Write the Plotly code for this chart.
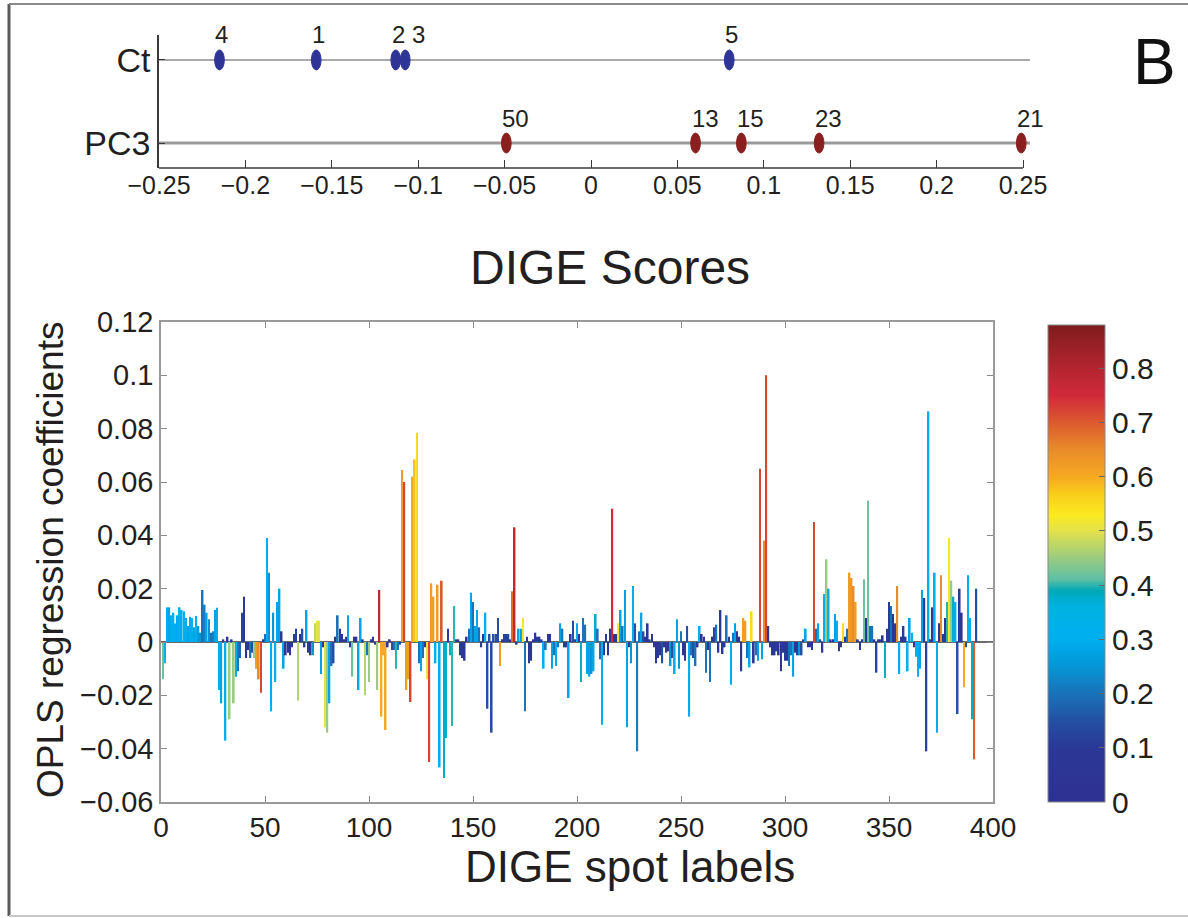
import plotly.graph_objects as go

# ---------------- data ----------------
ct_scores = [-0.159, -0.113, -0.1075, -0.215, 0.080]
ct_labels = ["1", "2", "3", "4", "5"]
pc3_scores = [0.0605, 0.249, 0.132, 0.087, -0.049]
pc3_labels = ["13", "21", "23", "15", "50"]
score_groups = ["PC3", "Ct"]

coef = [
    -0.014, -0.008, 0.013, 0.013, 0.010, 0.011, 0.007, 0.010, 0.013, 0.012,
    0.0115, 0.009, 0.006, 0.0095, 0.009, 0.0055, 0.0098, 0.006, 0.0035, 0.0195,
    0.014, 0.011, 0.0085, 0.0035, 0.004, 0.012, 0.0128, -0.018, -0.023, 0.001,
    -0.037, 0.002, -0.029, 0.001, -0.023, -0.013, -0.011, -0.006, 0.011, 0.017,
    -0.006, -0.003, -0.006, -0.004, -0.006, -0.010, -0.014, -0.019, 0.001, 0.003,
    0.039, 0.026, -0.026, 0.011, -0.015, 0.015, 0.020, 0.004, -0.010, -0.005,
    -0.004, -0.005, -0.002, 0.003, 0.005, -0.022, 0.003, 0.005, -0.002, 0.012,
    -0.004, -0.005, -0.005, 0.007, 0.008, 0.008, -0.012, -0.002, -0.032, -0.034,
    -0.023, -0.009, -0.008, 0.002, 0.010, 0.005, 0.003, 0.001, 0.002, 0.010,
    -0.002, -0.013, 0.002, 0.002, -0.018, 0.009, 0.001, -0.020, -0.005, -0.015,
    0.001, 0.002, -0.001, -0.018, 0.0195, -0.028, -0.005, -0.033, -0.002, 0.001,
    -0.003, -0.003, -0.010, -0.003, -0.001, 0.0645, 0.060, -0.018, -0.014, -0.0225,
    0.062, 0.0685, 0.0785, -0.008, -0.011, -0.006, -0.002, -0.014, -0.045, 0.022,
    0.017, -0.008, 0.0215, -0.047, 0.023, -0.051, -0.036, 0.005, -0.005, -0.0315,
    0.0135, 0.001, 0.001, -0.005, -0.006, -0.007, 0.002, 0.005, 0.0185, 0.015,
    0.006, 0.012, 0.0055, -0.002, 0.003, 0.011, -0.025, 0.003, -0.034, 0.003,
    0.003, 0.009, -0.009, 0.001, 0.003, 0.003, 0.003, 0.001, 0.019, 0.043,
    -0.001, 0.005, 0.005, 0.009, -0.026, 0.002, -0.008, -0.007, 0.001, 0.0035,
    0.002, 0.002, 0.001, -0.010, -0.003, 0.003, 0.003, -0.010, -0.005, -0.009,
    -0.002, 0.007, 0.005, -0.002, -0.002, -0.021, 0.003, 0.008, 0.001, 0.007,
    0.003, -0.015, 0.009, 0.0065, -0.012, -0.013, -0.012, -0.011, 0.0105, 0.005,
    -0.0065, -0.031, -0.005, 0.003, -0.005, 0.005, 0.050, 0.003, 0.003, 0.007,
    0.012, 0.006, 0.0195, -0.032, -0.002, -0.008, 0.021, 0.007, -0.041, 0.004,
    0.011, 0.004, 0.002, 0.007, 0.001, 0.003, -0.002, -0.008, -0.006, -0.005,
    -0.008, -0.002, -0.004, -0.0035, -0.009, -0.006, -0.012, 0.0085, -0.010, 0.004,
    -0.005, -0.007, 0.006, -0.028, -0.005, -0.006, -0.009, -0.002, 0.006, 0.003,
    0.002, -0.0115, -0.003, -0.015, 0.002, 0.0055, 0.0065, -0.004, 0.012, -0.0045,
    -0.002, 0.010, 0.002, -0.016, 0.0035, 0.007, 0.004, 0.002, -0.011, 0.009,
    0.008, -0.006, -0.0095, 0.0115, -0.008, -0.005, -0.007, 0.065, -0.0065, 0.038,
    0.100, 0.006, -0.002, -0.005, -0.005, -0.0035, -0.005, -0.011, -0.004, -0.007,
    -0.007, -0.009, -0.005, -0.013, -0.004, -0.005, -0.005, -0.005, 0.001, 0.005,
    -0.002, -0.002, -0.003, 0.045, 0.005, 0.007, 0.001, -0.004, 0.018, 0.031,
    0.020, 0.001, 0.001, 0.0105, 0.008, -0.0035, -0.002, 0.007, 0.002, 0.005,
    0.026, 0.024, 0.021, 0.015, 0.001, -0.003, 0.001, 0.0235, 0.009, 0.053,
    0.006, 0.006, 0.001, -0.0115, 0.001, 0.001, 0.0025, -0.0135, 0.005, 0.015,
    0.0135, 0.0105, 0.007, 0.021, -0.012, 0.002, 0.006, 0.002, -0.011, 0.009,
    0.0035, -0.002, -0.0055, -0.013, -0.010, 0.0195, 0.0165, -0.041, 0.0865, 0.001,
    0.013, 0.026, -0.034, 0.007, 0.025, 0.003, 0.009, 0.015, 0.039, 0.023,
    0.017, 0.015, -0.027, 0.020, 0.011, -0.017, -0.002, 0.025, 0.009, -0.029,
    -0.044, 0.020,
]

vip = [
    0.42, 0.30, 0.30, 0.28, 0.30, 0.32, 0.30, 0.30, 0.36, 0.30,
    0.32, 0.30, 0.28, 0.30, 0.30, 0.28, 0.30, 0.26, 0.25, 0.20,
    0.22, 0.28, 0.25, 0.20, 0.22, 0.28, 0.30, 0.30, 0.28, 0.08,
    0.30, 0.08, 0.45, 0.10, 0.45, 0.30, 0.20, 0.18, 0.12, 0.10,
    0.08, 0.10, 0.20, 0.15, 0.45, 0.62, 0.65, 0.72, 0.10, 0.20,
    0.30, 0.25, 0.30, 0.25, 0.30, 0.28, 0.28, 0.10, 0.28, 0.10,
    0.08, 0.08, 0.10, 0.10, 0.12, 0.47, 0.10, 0.15, 0.10, 0.28,
    0.10, 0.08, 0.25, 0.48, 0.50, 0.50, 0.28, 0.10, 0.50, 0.45,
    0.28, 0.20, 0.15, 0.10, 0.20, 0.10, 0.08, 0.10, 0.10, 0.28,
    0.10, 0.42, 0.08, 0.10, 0.28, 0.28, 0.10, 0.47, 0.20, 0.45,
    0.10, 0.10, 0.10, 0.45, 0.78, 0.60, 0.60, 0.60, 0.10, 0.10,
    0.15, 0.20, 0.40, 0.20, 0.10, 0.62, 0.72, 0.62, 0.62, 0.72,
    0.60, 0.58, 0.55, 0.20, 0.28, 0.20, 0.10, 0.50, 0.72, 0.62,
    0.62, 0.30, 0.62, 0.30, 0.70, 0.38, 0.38, 0.10, 0.38, 0.40,
    0.40, 0.10, 0.10, 0.10, 0.10, 0.10, 0.10, 0.20, 0.28, 0.20,
    0.28, 0.28, 0.20, 0.10, 0.10, 0.30, 0.15, 0.15, 0.15, 0.15,
    0.15, 0.15, 0.62, 0.10, 0.12, 0.12, 0.12, 0.10, 0.68, 0.78,
    0.10, 0.28, 0.28, 0.52, 0.20, 0.10, 0.08, 0.10, 0.10, 0.10,
    0.10, 0.10, 0.10, 0.30, 0.20, 0.10, 0.10, 0.28, 0.20, 0.30,
    0.20, 0.28, 0.20, 0.10, 0.10, 0.28, 0.10, 0.15, 0.10, 0.30,
    0.10, 0.38, 0.20, 0.20, 0.28, 0.28, 0.25, 0.28, 0.38, 0.20,
    0.20, 0.30, 0.10, 0.10, 0.08, 0.10, 0.75, 0.10, 0.10, 0.52,
    0.28, 0.20, 0.28, 0.28, 0.10, 0.25, 0.30, 0.15, 0.22, 0.20,
    0.28, 0.15, 0.10, 0.08, 0.10, 0.08, 0.08, 0.05, 0.08, 0.10,
    0.15, 0.10, 0.10, 0.10, 0.25, 0.15, 0.30, 0.28, 0.25, 0.20,
    0.08, 0.10, 0.15, 0.30, 0.20, 0.15, 0.20, 0.10, 0.30, 0.10,
    0.08, 0.20, 0.10, 0.20, 0.10, 0.12, 0.20, 0.08, 0.10, 0.10,
    0.10, 0.20, 0.10, 0.30, 0.20, 0.28, 0.08, 0.10, 0.08, 0.62,
    0.62, 0.20, 0.28, 0.55, 0.10, 0.20, 0.28, 0.72, 0.28, 0.65,
    0.72, 0.10, 0.10, 0.08, 0.10, 0.08, 0.10, 0.08, 0.10, 0.10,
    0.08, 0.20, 0.20, 0.28, 0.08, 0.10, 0.25, 0.15, 0.10, 0.28,
    0.08, 0.08, 0.10, 0.72, 0.20, 0.28, 0.10, 0.10, 0.30, 0.45,
    0.32, 0.10, 0.10, 0.28, 0.30, 0.10, 0.10, 0.55, 0.10, 0.20,
    0.62, 0.63, 0.65, 0.62, 0.10, 0.10, 0.10, 0.42, 0.10, 0.42,
    0.20, 0.20, 0.10, 0.12, 0.10, 0.10, 0.10, 0.38, 0.10, 0.10,
    0.20, 0.10, 0.10, 0.65, 0.30, 0.10, 0.10, 0.10, 0.35, 0.28,
    0.30, 0.10, 0.30, 0.30, 0.28, 0.28, 0.10, 0.12, 0.30, 0.10,
    0.10, 0.30, 0.30, 0.10, 0.65, 0.10, 0.10, 0.40, 0.52, 0.45,
    0.38, 0.30, 0.15, 0.10, 0.10, 0.60, 0.15, 0.30, 0.30, 0.38,
    0.70, 0.15,
]
spot_labels = list(range(1, len(coef) + 1))

score_ticks = [-0.25, -0.2, -0.15, -0.1, -0.05, 0, 0.05, 0.1, 0.15, 0.2, 0.25]
score_ticktext = ["\u22120.25", "\u22120.2", "\u22120.15", "\u22120.1", "\u22120.05", "0",
                  "0.05", "0.1", "0.15", "0.2", "0.25"]
coef_ticks = [-0.06, -0.04, -0.02, 0, 0.02, 0.04, 0.06, 0.08, 0.1, 0.12]
coef_ticktext = ["\u22120.06", "\u22120.04", "\u22120.02", "0", "0.02", "0.04", "0.06",
                 "0.08", "0.1", "0.12"]
spot_ticks = [0, 50, 100, 150, 200, 250, 300, 350, 400]
cbar_ticks = [0, 0.1, 0.2, 0.3, 0.4, 0.5, 0.6, 0.7, 0.8]

# ---------------- style ----------------
W, H = 1188, 918
FONT = "Liberation Sans, Arial, Helvetica, sans-serif"
TXT = "#231f20"

def px_x(p):
    return p / W

def px_y(p):
    return 1 - p / H

colorscale = [
    [0.0, "#2e3192"], [0.1136, "#2b3896"], [0.1705, "#2350a2"], [0.2273, "#1a72b8"],
    [0.284, "#0596d6"], [0.341, "#00aeef"], [0.409, "#00b2e2"], [0.443, "#00a9b8"],
    [0.466, "#5cbfa5"], [0.511, "#9acb80"], [0.568, "#e2e24a"], [0.602, "#fbea22"],
    [0.648, "#f9cb1c"], [0.682, "#f5a922"], [0.739, "#e98b2a"], [0.795, "#dc5a2e"],
    [0.852, "#d02a3a"], [0.909, "#b42530"], [1.0, "#7e1c1c"],
]

fig = go.Figure()

# bar chart
fig.add_trace(go.Bar(
    x=spot_labels, y=coef, xaxis="x", yaxis="y",
    marker=dict(
        color=vip, colorscale=colorscale, cmin=0, cmax=0.88, line=dict(width=0),
        colorbar=dict(
            x=px_x(1048), xanchor="left", xpad=0, ypad=0,
            y=px_y(563.5), yanchor="middle",
            len=477, lenmode="pixels", thickness=57, thicknessmode="pixels",
            outlinecolor="#8a8a8a", outlinewidth=1,
            tickvals=cbar_ticks, ticktext=[f"{v:g}" for v in cbar_ticks],
            ticks="inside", ticklen=6, tickcolor="#666",
            tickfont=dict(family=FONT, size=30, color=TXT),
        ),
    ),
    showlegend=False, hoverinfo="x+y",
))

# invisible points to carry the score axes
fig.add_trace(go.Scatter(x=ct_scores + pc3_scores,
                         y=[2] * len(ct_scores) + [1] * len(pc3_scores),
                         xaxis="x2", yaxis="y2", mode="markers",
                         marker=dict(size=1, opacity=0), showlegend=False, hoverinfo="skip"))

shapes = []
annotations = []

# horizontal group lines in the score plot
for gi, lw, col in [(0, 3, "#9a9a9a"), (1, 1.5, "#8c8c8c")]:
    shapes.append(dict(type="line", xref="x2", yref="y2", x0=score_ticks[0], x1=0.254,
                       y0=gi + 1, y1=gi + 1, line=dict(color=col, width=lw), layer="below"))

# ellipse markers
half_w, half_h = 0.0028, 0.12
for vals, gi, col in [(ct_scores, 1, "#2f3596"), (pc3_scores, 0, "#8a1f1f")]:
    for v in vals:
        shapes.append(dict(type="circle", xref="x2", yref="y2",
                           x0=v - half_w, x1=v + half_w, y0=gi + 1 - half_h, y1=gi + 1 + half_h,
                           fillcolor=col, line=dict(color=col, width=1)))

# point labels
label_dx = {"3": 5}
for vals, labs, gi in [(ct_scores, ct_labels, 1), (pc3_scores, pc3_labels, 0)]:
    for v, lab in zip(vals, labs):
        annotations.append(dict(x=v, y=gi + 1, xref="x2", yref="y2", text=lab,
                                showarrow=False, xanchor="left", yanchor="middle",
                                xshift=label_dx.get(lab, -6), yshift=25,
                                font=dict(family=FONT, size=24, color=TXT)))

# score axis baseline (ends at 0.25)
shapes.append(dict(type="line", xref="x2", yref="y2 domain", x0=score_ticks[0], x1=score_ticks[-1],
                   y0=0, y1=0, line=dict(color="#3a3a3a", width=1.5)))

# figure frame
shapes.append(dict(type="line", xref="paper", yref="paper", x0=px_x(9), x1=px_x(9),
                   y0=px_y(4), y1=px_y(916), line=dict(color="#5a5a5a", width=3)))
shapes.append(dict(type="line", xref="paper", yref="paper", x0=px_x(9), x1=1,
                   y0=px_y(4), y1=px_y(4), line=dict(color="#8a8a8a", width=2)))
shapes.append(dict(type="line", xref="paper", yref="paper", x0=px_x(9), x1=1,
                   y0=px_y(916), y1=px_y(916), line=dict(color="#c8c8c8", width=2)))

# texts
annotations += [
    dict(x=px_x(1154), y=px_y(62), xref="paper", yref="paper", text="B", showarrow=False,
         xanchor="center", yanchor="middle", font=dict(family=FONT, size=64, color="#111")),
    dict(x=px_x(610), y=px_y(268), xref="paper", yref="paper", text="DIGE Scores",
         showarrow=False, xanchor="center", yanchor="middle",
         font=dict(family=FONT, size=48, color=TXT)),
    dict(x=px_x(630), y=px_y(866), xref="paper", yref="paper", text="DIGE spot labels",
         showarrow=False, xanchor="center", yanchor="middle",
         font=dict(family=FONT, size=44, color=TXT)),
    dict(x=px_x(50), y=px_y(560), xref="paper", yref="paper", text="OPLS regression coefficients",
         showarrow=False, xanchor="center", yanchor="middle", textangle=-90,
         font=dict(family=FONT, size=37, color=TXT)),
]

score_px_per_unit = (1023 - 159) / 0.5
score_right = 0.25 + (1033 - 1023) / score_px_per_unit

fig.update_layout(
    width=W, height=H, margin=dict(l=0, r=0, t=0, b=0, pad=0, autoexpand=False),
    paper_bgcolor="white", plot_bgcolor="white",
    bargap=0.2,
    font=dict(family=FONT, color=TXT),
    xaxis=dict(domain=[px_x(161), px_x(993)], range=[0, 400], tickvals=spot_ticks,
               ticks="inside", ticklen=6, tickcolor="#888", showline=True, linecolor="#9a9a9a",
               linewidth=1.5, mirror="ticks", showgrid=False, zeroline=False,
               tickfont=dict(family=FONT, size=28, color=TXT), anchor="y"),
    yaxis=dict(domain=[px_y(802), px_y(322)], range=[-0.06, 0.12], tickvals=coef_ticks,
               ticktext=coef_ticktext, ticks="inside", ticklen=6, tickcolor="#888",
               showline=True, linecolor="#9a9a9a", linewidth=1.5, mirror="ticks",
               showgrid=False, zeroline=True, zerolinecolor="#6a6a6a", zerolinewidth=1.5,
               tickfont=dict(family=FONT, size=29, color=TXT), anchor="x"),
    xaxis2=dict(domain=[px_x(159), px_x(1033)], range=[score_ticks[0], score_right],
                tickvals=score_ticks, ticktext=score_ticktext, ticks="inside", ticklen=8,
                tickcolor="#3a3a3a", showline=False, showgrid=False, zeroline=False,
                tickfont=dict(family=FONT, size=25, color=TXT), anchor="y2"),
    yaxis2=dict(domain=[px_y(168), px_y(35)], range=[0.7, 2.3], type="linear",
                tickvals=[1, 2], ticktext=score_groups, ticks="inside", ticklen=6,
                tickcolor="#3a3a3a", showline=True, linecolor="#3a3a3a", linewidth=1.5,
                showgrid=False, zeroline=False,
                tickfont=dict(family=FONT, size=34, color=TXT), anchor="x2"),
    shapes=shapes, annotations=annotations,
)

fig.write_html("out.html")
